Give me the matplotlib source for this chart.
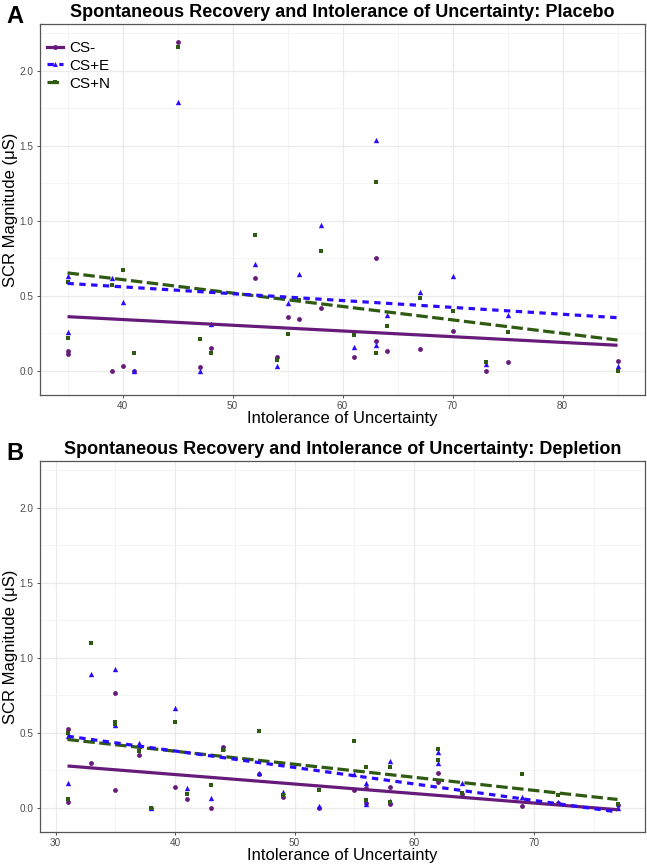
import matplotlib.pyplot as plt
import numpy as np
from matplotlib.ticker import MultipleLocator
from matplotlib.lines import Line2D

#dados placebo (painel A)
iu_a = np.array([35,35,39,40,41,45,47,48,52,54,55,56,58,61,63,63,64,67,70,73,75,85])
csmin_a = np.array([0.133,0.109,0.0,0.03,0.0,2.19,0.025,0.15,0.62,0.093,0.36,0.347,0.42,0.093,0.753,0.2,0.13,0.142,0.267,0.0,0.06,0.067])
cse_a = np.array([0.63,0.255,0.62,0.46,0.0,1.79,0.0,0.31,0.71,0.03,0.45,0.647,0.973,0.16,1.54,0.17,0.37,0.527,0.633,0.042,0.373,0.033])
csn_a = np.array([0.59,0.22,0.57,0.67,0.115,2.16,0.21,0.12,0.905,0.07,0.245,0.47,0.80,0.24,1.26,0.118,0.30,0.485,0.40,0.06,0.258,0.0])

#dados depletion (painel B)
iu_b = np.array([31,31,33,35,35,37,38,40,41,43,44,47,49,52,55,56,56,58,58,62,62,64,69,72,77])
csmin_b = np.array([0.525,0.036,0.296,0.763,0.118,0.353,0.0,0.136,0.058,0.0,0.407,0.222,0.073,0.0,0.118,0.13,0.03,0.136,0.025,0.231,0.169,0.09,0.013,0.03,0.018])
cse_b = np.array([0.48,0.163,0.889,0.927,0.553,0.433,0.0,0.663,0.129,0.063,0.40,0.231,0.107,0.013,0.222,0.163,0.025,0.313,0.047,0.371,0.296,0.163,0.073,0.037,0.0])
csn_b = np.array([0.50,0.06,1.096,0.571,0.56,0.378,0.0,0.571,0.091,0.153,0.383,0.511,0.083,0.116,0.443,0.271,0.051,0.27,0.04,0.39,0.318,0.096,0.222,0.085,0.027])

labels = ['CS-', 'CS+E', 'CS+N']
cores = ['#661a7a', '#2b0bff', '#2e5a12']
marcadores = ['o', '^', 's']
tamanhos = [12, 15, 9]
tracos = [None, (2.0, 1.7), (3.6, 1.4)]
ordem = [0, 2, 1]  # linha azul por cima da verde

plt.rcParams['font.family'] = ['Liberation Sans', 'DejaVu Sans']

fig = plt.figure(figsize=(6.47, 8.65), dpi=100)
ax_a = fig.add_axes([40/647, 1-395/865, 605/647, 371/865])
ax_b = fig.add_axes([40/647, 1-832/865, 605/647, 371/865])


def painel(ax, x, series, titulo, letra, xlim, xmaj):
    for i, y in enumerate(series):
        ax.scatter(x, y, s=tamanhos[i], marker=marcadores[i], color=cores[i], linewidths=0, zorder=3)
    xs = np.array([x.min(), x.max()])
    for i in ordem:
        b, a = np.polyfit(x, series[i], 1)
        ln, = ax.plot(xs, a + b*xs, color=cores[i], lw=2.3, zorder=4, solid_capstyle='butt')
        if tracos[i] is not None:
            ln.set_dashes(tracos[i])
            ln.set_dash_capstyle('butt')
    ax.set_xlim(*xlim)
    ax.set_ylim(-0.162, 2.312)
    ax.xaxis.set_major_locator(MultipleLocator(xmaj))
    ax.xaxis.set_minor_locator(MultipleLocator(xmaj/2))
    ax.yaxis.set_major_locator(MultipleLocator(0.5))
    ax.yaxis.set_minor_locator(MultipleLocator(0.25))
    ax.grid(which='major', color='#ebebeb', lw=1.0, zorder=0)
    ax.grid(which='minor', color='#f2f2f2', lw=0.6, zorder=0)
    ax.set_axisbelow(True)
    ax.tick_params(which='major', length=2.5, width=0.6, color='#333333', labelsize=7.2, labelcolor='#4d4d4d', pad=2)
    ax.tick_params(which='minor', length=0)
    for s in ax.spines.values():
        s.set_color('#555555')
        s.set_linewidth(0.9)
    ax.set_title(titulo, fontsize=13, fontweight='bold', pad=5)
    ax.set_xlabel('Intolerance of Uncertainty', fontsize=12, labelpad=0)
    ax.set_ylabel('SCR Magnitude (\u03bcS)', fontsize=12)
    ax.yaxis.set_label_coords(-0.037, 0.5)
    ax.text(-0.055, 1.052, letra, transform=ax.transAxes, fontsize=17, fontweight='bold', va='top', ha='left')


painel(ax_a, iu_a, [csmin_a, cse_a, csn_a],
       'Spontaneous Recovery and Intolerance of Uncertainty: Placebo', 'A', (32.5, 87.5), 10)
painel(ax_b, iu_b, [csmin_b, cse_b, csn_b],
       'Spontaneous Recovery and Intolerance of Uncertainty: Depletion', 'B', (28.7, 79.3), 10)

#legenda
handles = []
for i in range(3):
    h = Line2D([0], [0], color=cores[i], lw=2.3, marker=marcadores[i], ms=3.5, mew=0)
    if tracos[i] is not None:
        h.set_dashes(tracos[i])
    handles.append(h)
ax_a.legend(handles, labels, loc='upper left', bbox_to_anchor=(-0.003, 0.979), frameon=False,
            fontsize=11, handlelength=1.0, handletextpad=0.45, labelspacing=0.25, borderaxespad=0.2)

fig.savefig('out.png', dpi=100)
